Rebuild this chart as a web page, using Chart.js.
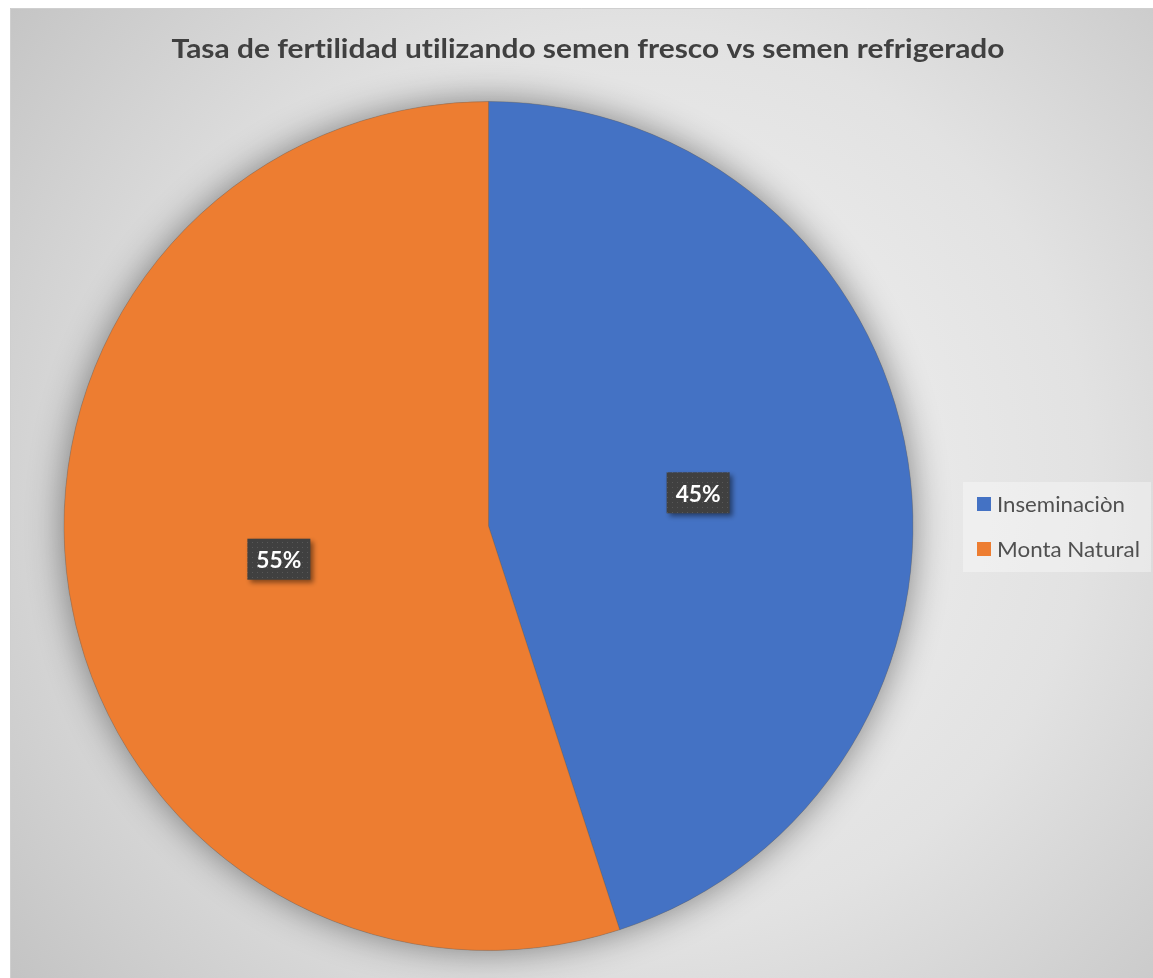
<!DOCTYPE html>
<html>
<head>
<meta charset="utf-8">
<script src="https://cdn.jsdelivr.net/npm/chart.js@4.4.0/dist/chart.umd.min.js"></script>
<style>
  html, body { margin: 0; padding: 0; background: #ffffff; }
  #wrap { width: 1153px; height: 978px; position: relative; }
</style>
</head>
<body>
<div id="wrap"><canvas id="pie-chart"></canvas></div>
<script>
// datos
const chartTitle = "Tasa de fertilidad utilizando semen fresco vs semen refrigerado"
const categories = ["Inseminaciòn", "Monta Natural"]
const values = [45, 55]
const sliceColors = ["#4472C4", "#ED7D31"]

const ctx = document.querySelector("#pie-chart")

// patron de puntos para las etiquetas
function dotPattern(c){
    const p = document.createElement("canvas")
    p.width = 5
    p.height = 5
    const pc = p.getContext("2d")
    pc.fillStyle = "#404040"
    pc.fillRect(0,0,5,5)
    pc.fillStyle = "#585858"
    pc.fillRect(2,2,1,1)
    return c.createPattern(p, "repeat")
}

// texto comprimido a un ancho dado (Calibri es mas estrecha que Lato)
function fitText(c, txt, x, y, width, align){
    const w = c.measureText(txt).width
    const k = width / w
    c.save()
    c.translate(x, y)
    c.scale(k, 1)
    c.textAlign = align
    c.fillText(txt, 0, 0)
    c.restore()
}

const backgroundPlugin = {
    id: "fondo",
    beforeDraw(chart){
        const c = chart.ctx
        c.save()
        c.fillStyle = "#ffffff"
        c.fillRect(0,0,chart.width,chart.height)
        const g = c.createRadialGradient(640, 480, 0, 640, 480, 820)
        g.addColorStop(0, "#f4f4f4")
        g.addColorStop(0.55, "#e2e2e2")
        g.addColorStop(1, "#c2c2c2")
        c.fillStyle = g
        c.fillRect(10, 8, chart.width-10, chart.height-8)
        c.strokeStyle = "#cfcfcf"
        c.lineWidth = 1
        c.beginPath()
        c.moveTo(10.5, chart.height)
        c.lineTo(10.5, 8.5)
        c.lineTo(chart.width, 8.5)
        c.stroke()
        c.restore()
    },
    beforeDatasetsDraw(chart){
        // sombra del pastel
        const arc = chart.getDatasetMeta(0).data[0]
        const c = chart.ctx
        c.save()
        c.shadowColor = "rgba(0,0,0,0.45)"
        c.shadowBlur = 36
        c.fillStyle = "#888888"
        c.beginPath()
        c.arc(arc.x, arc.y, arc.outerRadius, 0, Math.PI*2)
        c.fill()
        c.restore()
    },
    afterDatasetsDraw(chart){
        const c = chart.ctx
        const total = values.reduce((a,b)=>a+b,0)
        const pat = dotPattern(c)
        chart.getDatasetMeta(0).data.forEach((el, i)=>{
            const pos = el.tooltipPosition()
            const txt = Math.round(values[i]/total*100) + "%"
            const w = 63, h = 41
            c.save()
            c.shadowColor = "rgba(0,0,0,0.45)"
            c.shadowBlur = 5
            c.shadowOffsetX = 3
            c.shadowOffsetY = 3
            c.fillStyle = pat
            c.fillRect(pos.x - w/2, pos.y - h/2, w, h)
            c.restore()
            c.save()
            c.fillStyle = "#ffffff"
            c.font = "bold 23px Lato"
            c.textBaseline = "alphabetic"
            fitText(c, txt, pos.x, pos.y + 9, 45, "center")
            c.restore()
        })
    },
    afterDraw(chart){
        const c = chart.ctx
        c.save()
        // titulo
        c.fillStyle = "#404040"
        c.font = "bold 27px Lato"
        c.letterSpacing = "0.01px"
        c.textBaseline = "alphabetic"
        fitText(c, chartTitle, 588, 58, 833, "center")

        // leyenda
        c.fillStyle = "rgba(255,255,255,0.35)"
        c.fillRect(963, 482, 188, 90)
        c.font = "21px Lato"
        categories.forEach((cat, i)=>{
            const y = 504 + i*45
            c.fillStyle = sliceColors[i]
            c.fillRect(977, y-7, 14, 14)
            c.fillStyle = "#505050"
            const tw = [128, 143][i]
            fitText(c, cat, 997, y + 8, tw, "left")
        })
        c.restore()
    }
}

const myChart = new Chart(ctx, {
    type: "pie",
    data: {
        labels: categories,
        datasets: [
            {
                data: values,
                backgroundColor: sliceColors,
                borderColor: "rgba(90,90,90,0.3)",
                borderWidth: 1,
            }
        ]
    },
    options: {
        animation: false,
        responsive: true,
        maintainAspectRatio: false,
        layout: {
            padding: {left: 63, top: 101, right: 239, bottom: 27}
        },
        plugins: {
            legend: {display: false},
            title: {display: false},
            tooltip: {enabled: false},
        }
    },
    plugins: [backgroundPlugin]
});
</script>
</body>
</html>
